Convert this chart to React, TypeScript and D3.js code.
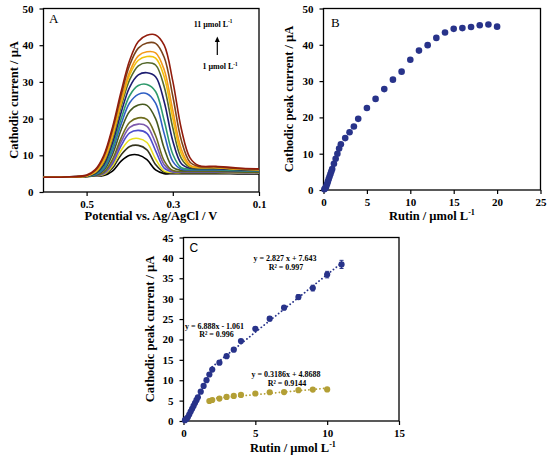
import * as d3 from "d3";
import { useEffect, useRef } from "react";

// panel A: voltammograms sampled on a shared potential grid (V)
const potentials = [0.6, 0.55, 0.5, 0.48, 0.46, 0.44, 0.42, 0.4, 0.38, 0.36, 0.34, 0.32, 0.3, 0.28, 0.26, 0.24, 0.2, 0.15, 0.1];
const voltammograms: number[][] = [
  [4.0, 4.1, 4.25, 4.35, 4.5, 5.7, 8.4, 10.0, 10.1, 8.8, 6.0, 5.0, 5.0, 5.0, 5.0, 5.0, 5.0, 4.95, 4.95],
  [4.0, 4.1, 4.25, 4.4, 4.7, 6.5, 10.1, 12.4, 12.7, 11.5, 7.5, 5.4, 5.2, 5.2, 5.2, 5.2, 5.2, 5.1, 5.1],
  [4.0, 4.1, 4.25, 4.4, 4.8, 7.1, 11.3, 14.2, 14.6, 13.5, 9.0, 5.7, 5.3, 5.3, 5.3, 5.3, 5.3, 5.2, 5.15],
  [4.0, 4.1, 4.25, 4.4, 5.0, 7.7, 12.6, 16.1, 16.8, 16.0, 11.3, 6.5, 5.45, 5.4, 5.4, 5.4, 5.4, 5.3, 5.25],
  [4.0, 4.1, 4.25, 4.4, 5.15, 8.25, 13.65, 17.6, 18.5, 17.9, 13.3, 7.4, 5.6, 5.5, 5.5, 5.5, 5.5, 5.35, 5.3],
  [4.0, 4.1, 4.25, 4.45, 5.35, 8.85, 14.7, 19.0, 20.2, 19.8, 15.4, 8.5, 5.85, 5.6, 5.6, 5.6, 5.6, 5.45, 5.35],
  [4.0, 4.1, 4.26, 4.57, 5.9, 10.2, 16.9, 22.0, 23.7, 23.6, 20.0, 11.9, 6.7, 5.9, 5.85, 5.85, 5.85, 5.6, 5.5],
  [4.0, 4.1, 4.27, 4.7, 6.3, 11.2, 18.5, 24.3, 26.6, 26.8, 24.2, 15.9, 8.35, 6.2, 6.0, 6.0, 6.0, 5.8, 5.65],
  [4.0, 4.1, 4.28, 4.8, 6.8, 12.1, 19.9, 26.3, 29.0, 29.3, 27.4, 19.5, 10.3, 6.6, 6.2, 6.15, 6.15, 5.9, 5.75],
  [4.0, 4.1, 4.3, 5.0, 7.4, 13.3, 21.6, 28.6, 31.9, 32.5, 31.4, 24.6, 13.9, 7.7, 6.45, 6.35, 6.35, 6.05, 5.85],
  [4.0, 4.1, 4.35, 5.2, 8.1, 14.5, 23.2, 30.6, 34.4, 35.2, 34.6, 28.7, 17.5, 9.1, 6.75, 6.55, 6.55, 6.2, 6.0],
  [4.0, 4.1, 4.4, 5.4, 8.5, 15.2, 24.1, 31.9, 35.9, 36.9, 36.5, 31.4, 20.1, 10.4, 7.05, 6.65, 6.65, 6.25, 6.05],
  [4.0, 4.1, 4.4, 5.55, 8.8, 15.7, 24.9, 32.8, 37.1, 38.2, 37.9, 33.3, 22.2, 11.6, 7.35, 6.75, 6.7, 6.3, 6.1],
  [4.0, 4.1, 4.5, 5.85, 9.6, 16.9, 26.3, 34.6, 39.2, 40.6, 40.5, 36.7, 26.1, 14.0, 8.1, 6.95, 6.85, 6.45, 6.2],
  [4.0, 4.1, 4.6, 6.1, 10.0, 17.6, 27.3, 35.9, 41.0, 42.7, 42.8, 40.0, 30.2, 17.1, 9.3, 7.2, 7.0, 6.55, 6.3],
];
const curveColors = [
  "#000000", "#35351f", "#e8e020", "#4d4dcc", "#7d5aae", "#6e6c1e", "#46591f", "#2f5fc4",
  "#2f9a6c", "#1c1c70", "#55692c", "#f0c20a", "#f39a1a", "#7a431a", "#921c0c",
];

// panel B / C: rutin concentration (µmol/L) vs cathodic peak current (µA)
const rutinConc = [0.1, 0.2, 0.3, 0.4, 0.5, 0.6, 0.7, 0.8, 0.9, 1.0, 1.2, 1.4, 1.6, 1.8, 2.0, 2.5, 3, 3.5, 4, 5, 6, 7, 8, 9, 10, 11, 12, 13, 14, 15, 16, 17, 18, 19, 20];
const peakCurrent = [0.2, 0.5, 0.9, 1.6, 2.3, 3.0, 3.7, 4.4, 5.1, 5.8, 7.2, 8.6, 10.0, 11.4, 12.6, 14.3, 15.9, 17.5, 19.6, 22.6, 25.1, 27.8, 30.4, 32.6, 35.9, 38.4, 39.9, 41.9, 43.4, 44.4, 44.6, 44.9, 45.4, 45.6, 45.0];
const peakError = [0.2, 0.2, 0.2, 0.2, 0.2, 0.2, 0.2, 0.2, 0.2, 0.2, 0.3, 0.3, 0.3, 0.3, 0.3, 0.3, 0.3, 0.4, 0.4, 0.4, 0.5, 0.5, 0.6, 0.7, 0.8, 1.0];
const goldConc = [1.8, 2.0, 2.5, 3, 3.5, 4, 5, 6, 7, 8, 9, 10];
const goldCurrent = [4.9, 5.15, 5.5, 5.9, 6.15, 6.4, 6.75, 7.05, 7.1, 7.55, 7.7, 7.75];

// linear fits shown in panel C
const fitSlope = [6.888, 2.827, 0.3186];
const fitIntercept = [-1.061, 7.643, 4.8688];
const fitFrom = [0.15, 2.0, 1.8];
const fitTo = [2.0, 11, 10];
const fitEquation = ["y = 6.888x - 1.061", "y = 2.827 x + 7.643", "y = 0.3186x + 4.8688"];
const fitR2 = ["R² = 0.996", "R² = 0.997", "R² = 0.9144"];

const SERIF = "'Liberation Serif', 'Times New Roman', serif";
const BLUE = "#28338a";
const GOLD = "#b39f35";

type Box = { l: number; r: number; t: number; b: number };
type Sel = d3.Selection<SVGGElement, unknown, null, undefined>;

function drawFrame(
  svg: Sel,
  box: Box,
  xDomain: [number, number],
  yDomain: [number, number],
  xTicks: number[],
  yTicks: number[],
  xFmt: (d: number) => string
) {
  const x = d3.scaleLinear().domain(xDomain).range([box.l, box.r]);
  const y = d3.scaleLinear().domain(yDomain).range([box.b, box.t]);
  const g = svg.append("g");

  const ax = g
    .append("g")
    .attr("transform", `translate(0,${box.b})`)
    .call(
      d3
        .axisBottom(x)
        .tickValues(xTicks)
        .tickSize(4)
        .tickPadding(4)
        .tickFormat((d) => xFmt(d as number))
    );
  const ay = g
    .append("g")
    .attr("transform", `translate(${box.l},0)`)
    .call(d3.axisLeft(y).tickValues(yTicks).tickSize(4).tickPadding(6).tickFormat(d3.format("d")));

  [ax, ay].forEach((a) => {
    a.select(".domain").remove();
    a.selectAll(".tick line").attr("stroke", "#000").attr("stroke-width", 1.2);
    a.selectAll(".tick text")
      .attr("fill", "#000")
      .attr("font-family", SERIF)
      .attr("font-weight", "bold")
      .attr("font-size", 11);
  });

  g.append("rect")
    .attr("x", box.l)
    .attr("y", box.t)
    .attr("width", box.r - box.l)
    .attr("height", box.b - box.t)
    .attr("fill", "none")
    .attr("stroke", "#000")
    .attr("stroke-width", 1.3);

  return { x, y, g };
}

function label(
  sel: Sel,
  x: number,
  y: number,
  main: string,
  sup: string,
  size: number,
  rotate = false
) {
  const t = sel
    .append("text")
    .attr("font-family", SERIF)
    .attr("font-weight", "bold")
    .attr("font-size", size)
    .attr("text-anchor", "middle")
    .attr("fill", "#000");
  if (rotate) t.attr("transform", `translate(${x + size * 0.35},${y}) rotate(-90)`);
  else t.attr("x", x).attr("y", y + size * 0.35);
  t.append("tspan").text(main);
  if (sup) t.append("tspan").attr("dy", -size * 0.4).attr("font-size", size * 0.65).text(sup);
  return t;
}

const App = () => {
  const svgRef = useRef<SVGSVGElement>(null);

  useEffect(() => {
    const root = d3.select(svgRef.current);
    root.selectAll("*").remove();
    const svg = root.append("g") as unknown as Sel;

    // ---------- panel A ----------
    const boxA = { l: 43.5, r: 259, t: 8.5, b: 192 };
    const A = drawFrame(svg, boxA, [0.6, 0.1], [0, 50], [0.5, 0.3, 0.1], [0, 10, 20, 30, 40, 50], d3.format(".1f"));
    const line = d3
      .line<number>()
      .x((_, i) => A.x(potentials[i]))
      .y((d) => A.y(d))
      .curve(d3.curveCatmullRom.alpha(0.5));
    A.g
      .selectAll(".cv")
      .data(voltammograms)
      .enter()
      .append("path")
      .attr("class", "cv")
      .attr("d", (d) => line(d))
      .attr("fill", "none")
      .attr("stroke", (_, i) => curveColors[i])
      .attr("stroke-width", 1.6);
    A.g.append("text").attr("x", 49).attr("y", 22.5).attr("font-family", SERIF).attr("font-size", 13).text("A");
    label(svg, 213, 26.5 - 8 * 0.35, "11 µmol L", "-1", 8);
    label(svg, 220, 69 - 8 * 0.35, "1 µmol L", "-1", 8);
    A.g.append("line").attr("x1", 217.3).attr("x2", 217.3).attr("y1", 55).attr("y2", 41).attr("stroke", "#000").attr("stroke-width", 1.2);
    A.g.append("path").attr("d", "M217.3,36.5 L214.8,42 L219.8,42 Z").attr("fill", "#000");
    label(svg, 13.5, 100, "Cathodic current / µA", "", 12.5, true);
    label(svg, 151, 216, "Potential vs. Ag/AgCl / V", "", 12.5);

    // ---------- panel B ----------
    const boxB = { l: 323.5, r: 540.5, t: 8.5, b: 190 };
    const B = drawFrame(svg, boxB, [0, 25], [0, 50], [0, 5, 10, 15, 20, 25], [0, 10, 20, 30, 40, 50], d3.format("d"));
    B.g
      .selectAll(".pt")
      .data(rutinConc)
      .enter()
      .append("circle")
      .attr("cx", (d) => B.x(d))
      .attr("cy", (_, i) => B.y(peakCurrent[i]))
      .attr("r", 3.3)
      .attr("fill", BLUE);
    B.g.append("text").attr("x", 331).attr("y", 26.5).attr("font-family", SERIF).attr("font-size", 13).text("B");
    label(svg, 288.5, 99, "Cathodic peak current / µA", "", 12.5, true);
    label(svg, 432, 216, "Rutin / µmol L", "-1", 12.5);

    // ---------- panel C ----------
    const boxC = { l: 183.5, r: 399, t: 237.5, b: 421 };
    const C = drawFrame(svg, boxC, [0, 15], [0, 45], [0, 5, 10, 15], d3.range(0, 46, 5), d3.format("d"));
    const fitColors = [BLUE, BLUE, GOLD];
    fitSlope.forEach((m, i) => {
      C.g
        .append("line")
        .attr("x1", C.x(fitFrom[i]))
        .attr("x2", C.x(fitTo[i]))
        .attr("y1", C.y(m * fitFrom[i] + fitIntercept[i]))
        .attr("y2", C.y(m * fitTo[i] + fitIntercept[i]))
        .attr("stroke", fitColors[i])
        .attr("stroke-width", 1.8)
        .attr("stroke-linecap", "round")
        .attr("stroke-dasharray", "0.1,3.6");
    });
    const cConc = rutinConc.filter((d) => d <= 11);
    const bars = C.g.append("g").attr("stroke", BLUE).attr("stroke-width", 1);
    cConc.forEach((d, i) => {
      const e = peakError[i];
      const x = C.x(d);
      bars.append("line").attr("x1", x).attr("x2", x).attr("y1", C.y(peakCurrent[i] - e)).attr("y2", C.y(peakCurrent[i] + e));
      bars.append("line").attr("x1", x - 2).attr("x2", x + 2).attr("y1", C.y(peakCurrent[i] + e)).attr("y2", C.y(peakCurrent[i] + e));
      bars.append("line").attr("x1", x - 2).attr("x2", x + 2).attr("y1", C.y(peakCurrent[i] - e)).attr("y2", C.y(peakCurrent[i] - e));
    });
    C.g
      .selectAll(".pc")
      .data(cConc)
      .enter()
      .append("circle")
      .attr("cx", (d) => C.x(d))
      .attr("cy", (_, i) => C.y(peakCurrent[i]))
      .attr("r", 3.1)
      .attr("fill", BLUE);
    C.g
      .selectAll(".pg")
      .data(goldConc)
      .enter()
      .append("circle")
      .attr("cx", (d) => C.x(d))
      .attr("cy", (_, i) => C.y(goldCurrent[i]))
      .attr("r", 3.1)
      .attr("fill", GOLD);
    C.g
      .append("text")
      .attr("x", 189.5)
      .attr("y", 252)
      .attr("font-family", "'Liberation Sans', Arial, sans-serif")
      .attr("font-size", 12)
      .text("C");
    const eqPos = [
      [214.5, 326.5, 216.5, 334.5],
      [285, 258.5, 286, 267.5],
      [286, 374.5, 287, 383.5],
    ];
    fitEquation.forEach((t, i) => {
      label(svg, eqPos[i][0], eqPos[i][1], t, "", 8);
      label(svg, eqPos[i][2], eqPos[i][3], fitR2[i], "", 8);
    });
    label(svg, 150, 329, "Cathodic peak current / µA", "", 12.5, true);
    label(svg, 293, 448, "Rutin / µmol L", "-1", 12.5);
  }, []);

  return (
    <svg
      ref={svgRef}
      width={550}
      height={458}
      style={{ position: "absolute", left: 0, top: 0, background: "#fff" }}
    />
  );
};

export default App;
